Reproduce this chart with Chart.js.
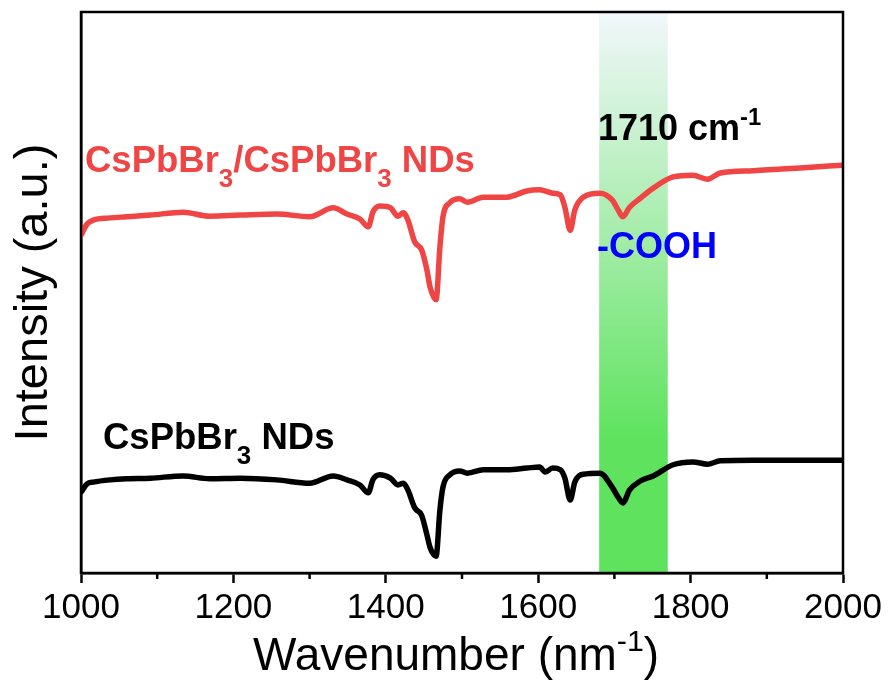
<!DOCTYPE html>
<html>
<head>
<meta charset="utf-8">
<style>
  html, body { margin: 0; padding: 0; background: #fff; }
  #wrap { position: relative; width: 888px; height: 681px; }
</style>
<script src="https://cdn.jsdelivr.net/npm/chart.js@4.4.0/dist/chart.umd.min.js"></script>
</head>
<body>
<div id="wrap"><canvas id="myChart"></canvas></div>
<script>
// FTIR spectra, wavenumber in cm-1, intensity in arbitrary units (offset traces)
const wavenumber = [1000, 1008, 1016, 1038, 1060, 1091, 1134, 1169, 1209, 1257,
  1300, 1331, 1349, 1366, 1377, 1383, 1392, 1406, 1416, 1423,
  1429, 1438, 1447, 1454, 1458, 1466, 1471, 1475, 1484, 1497,
  1507, 1528, 1559, 1585, 1602, 1609, 1619, 1629, 1635, 1642,
  1648, 1659, 1681, 1697, 1705, 1711, 1720, 1734, 1751, 1777,
  1803, 1822, 1839, 1882, 1944, 2000];

const heteroNDs = [60.2, 62.2, 62.9, 63.3, 63.5, 63.8, 64.3, 63.6, 63.8, 64.0,
  63.5, 65.1, 64.0, 63.1, 61.7, 64.3, 65.4, 65.1, 63.6, 64.2,
  62.9, 59.0, 57.6, 54.0, 51.0, 48.7, 58.1, 63.5, 66.0, 66.7,
  66.1, 67.0, 67.0, 68.1, 68.3, 68.1, 67.7, 67.4, 65.2, 61.1,
  64.7, 67.0, 67.7, 66.5, 64.7, 63.5, 65.2, 66.8, 68.6, 70.6,
  70.9, 70.2, 71.3, 71.7, 72.2, 72.7];

const plainNDs = [14.4, 15.9, 16.2, 16.6, 16.8, 16.9, 17.3, 16.8, 16.9, 16.6,
  16.0, 17.3, 16.6, 15.7, 14.3, 16.6, 17.5, 16.9, 15.7, 16.0,
  14.8, 11.6, 10.3, 6.8, 4.6, 3.0, 11.2, 15.3, 17.5, 18.2,
  17.8, 18.4, 18.4, 18.7, 18.9, 18.0, 18.7, 18.4, 16.9, 13.0,
  16.2, 17.6, 17.8, 15.3, 13.5, 12.5, 14.8, 16.4, 17.3, 19.3,
  19.8, 19.4, 20.0, 20.1, 20.1, 20.1];

const xMajorTicks = [1000, 1200, 1400, 1600, 1800, 2000];
const xMinorTicks = [1100, 1300, 1500, 1700, 1900];
const bandRange = [1680, 1770];   // highlighted -COOH region

const FONT = '"Liberation Sans", Arial, Helvetica, sans-serif';

function toPoints(ys) {
  return wavenumber.map((x, i) => ({ x: x, y: ys[i] }));
}

// draw text with sub/superscript runs: [text, 'sub'|'sup'|'']
function drawRuns(ctx, x, y, runs, size, weight, color) {
  ctx.save();
  ctx.fillStyle = color;
  ctx.textAlign = 'left';
  ctx.textBaseline = 'alphabetic';
  let cx = x;
  runs.forEach(r => {
    let s = size, dy = 0;
    if (r[1] === 'sub') { s = size * 0.71; dy = size * 0.4; }
    if (r[1] === 'sup') { s = size * 0.66; dy = -size * 0.42; }
    ctx.font = weight + ' ' + s + 'px ' + FONT;
    ctx.fillText(r[0], cx, y + dy);
    cx += ctx.measureText(r[0]).width;
  });
  ctx.restore();
  return cx - x;
}

const decor = {
  id: 'decor',
  beforeDatasetsDraw(chart) {
    const { ctx, chartArea: a, scales: { x } } = chart;
    const x0 = x.getPixelForValue(bandRange[0]);
    const x1 = x.getPixelForValue(bandRange[1]);
    const g = ctx.createLinearGradient(0, a.top, 0, a.bottom);
    g.addColorStop(0, '#f2f7fb');
    g.addColorStop(0.76, '#5fe35f');
    g.addColorStop(1, '#5fe35f');
    ctx.save();
    ctx.fillStyle = g;
    ctx.fillRect(x0, a.top + 1, x1 - x0, a.bottom - a.top - 2);
    ctx.restore();
  },
  afterDraw(chart) {
    const { ctx, chartArea: a, scales: { x } } = chart;
    ctx.save();
    // frame
    ctx.strokeStyle = '#000';
    ctx.lineWidth = 2.5;
    ctx.strokeRect(a.left, a.top, a.right - a.left, a.bottom - a.top);
    // minor ticks
    xMinorTicks.forEach(v => {
      const px = x.getPixelForValue(v);
      ctx.beginPath();
      ctx.moveTo(px, a.bottom);
      ctx.lineTo(px, a.bottom + 6);
      ctx.stroke();
    });
    ctx.restore();

    // axis titles
    drawRuns(ctx, 253, 670, [['Wavenumber (nm', ''], ['-1', 'sup'], [')', '']], 46, 'normal', '#000');
    ctx.save();
    ctx.translate(47, (a.top + a.bottom) / 2);
    ctx.rotate(-Math.PI / 2);
    ctx.font = 'normal 47px ' + FONT;
    ctx.fillStyle = '#000';
    ctx.textAlign = 'center';
    ctx.textBaseline = 'alphabetic';
    ctx.fillText('Intensity (a.u.)', 0, 0);
    ctx.restore();

    // annotations
    drawRuns(ctx, 85, 172, [['CsPbBr', ''], ['3', 'sub'], ['/CsPbBr', ''], ['3', 'sub'], [' NDs', '']], 36.5, 'bold', '#ef4545');
    drawRuns(ctx, 103, 449, [['CsPbBr', ''], ['3', 'sub'], [' NDs', '']], 36.5, 'bold', '#000');
    drawRuns(ctx, 598, 140, [['1710 cm', ''], ['-1', 'sup']], 36, 'bold', '#000');
    drawRuns(ctx, 597, 258, [['-COOH', '']], 36, 'bold', '#0000ff');
  }
};

const ctx = document.getElementById('myChart').getContext('2d');
const chart = new Chart(ctx, {
  type: 'line',
  data: {
    datasets: [{
      label: 'CsPbBr3/CsPbBr3 NDs',
      data: toPoints(heteroNDs),
      borderColor: '#ef4545',
      borderWidth: 5.5,
      pointRadius: 0,
      cubicInterpolationMode: 'monotone',
      borderCapStyle: 'round',
      borderJoinStyle: 'round',
      fill: false
    }, {
      label: 'CsPbBr3 NDs',
      data: toPoints(plainNDs),
      borderColor: '#000',
      borderWidth: 5.5,
      pointRadius: 0,
      cubicInterpolationMode: 'monotone',
      borderCapStyle: 'round',
      borderJoinStyle: 'round',
      fill: false
    }]
  },
  options: {
    responsive: true,
    maintainAspectRatio: false,
    animation: false,
    devicePixelRatio: 1,
    layout: { padding: { top: 12, right: 45, left: 0, bottom: 0 } },
    plugins: { legend: { display: false }, tooltip: { enabled: false } },
    scales: {
      x: {
        type: 'linear',
        min: 1000,
        max: 2000,
        afterFit(s) { s.height = 108; },
        afterBuildTicks(s) { s.ticks = xMajorTicks.map(v => ({ value: v })); },
        ticks: {
          autoSkip: false,
          maxRotation: 0,
          padding: 4,
          color: '#000',
          font: { family: FONT, size: 35 },
          callback: v => String(v)
        },
        grid: {
          drawOnChartArea: false,
          drawTicks: true,
          tickLength: 10,
          tickWidth: 2.5,
          tickColor: '#000'
        },
        border: { display: true, color: '#000', width: 2.5 }
      },
      y: {
        type: 'linear',
        min: 0,
        max: 100,
        afterFit(s) { s.width = 81; },
        ticks: { display: false },
        grid: { display: false },
        border: { display: true, color: '#000', width: 2.5 }
      }
    }
  },
  plugins: [decor]
});
</script>
</body>
</html>
